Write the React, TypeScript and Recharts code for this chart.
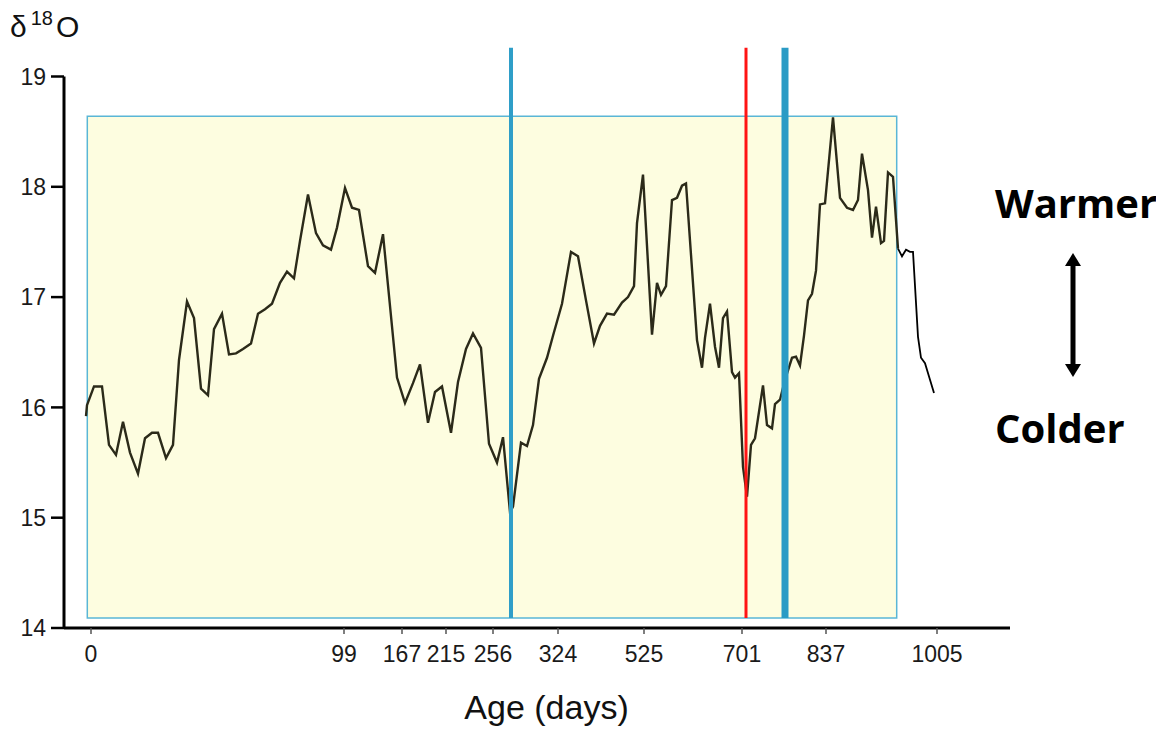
import React from "react";
import { LineChart, Line, XAxis, YAxis, ReferenceArea, ReferenceLine } from "recharts";

// position along the sampled profile (0 = first dated sample) and measured δ18O
const distance = [
  -0.5, -0.4, 0.3, 1.1, 1.8, 2.5, 3.2, 3.9, 4.7, 5.4, 6.1, 6.7, 7.5, 8.2, 8.8, 9.6, 10.3, 11.0, 11.7, 12.3,
  13.1, 13.8, 14.5, 15.2, 16.0, 16.7, 17.4, 18.1, 18.9, 19.6, 20.3, 20.9, 21.7, 22.5, 23.2, 24.0, 24.6, 25.4, 26.1, 26.8,
  27.7, 28.4, 29.2, 30.6, 31.4, 32.2, 32.9, 33.7, 34.4, 35.1, 36.0, 36.7, 37.5, 38.2, 39.0, 39.8, 40.6, 41.2, 41.9, 42.2,
  43.0, 43.6, 44.2, 44.8, 45.6, 46.2, 47.1, 48.0, 48.7, 49.5, 50.3, 50.9, 51.6, 52.3, 53.1, 53.7, 54.3, 54.6, 55.2, 56.1,
  56.6, 57.0, 57.5, 58.1, 58.6, 59.1, 59.5, 60.6, 61.1, 61.4, 61.9, 62.4, 62.8, 63.2, 63.6, 64.1, 64.4, 64.8, 65.2, 65.6,
  66.0, 66.4, 67.2, 67.6, 68.1, 68.4, 68.9, 69.4, 70.1, 70.5, 70.9, 71.3, 71.7, 72.1, 72.5, 72.9, 73.4, 74.2, 74.9, 75.6,
  76.2, 76.7, 77.1, 77.7, 78.1, 78.5, 79.0, 79.3, 79.7, 80.2, 80.7, 81.1, 81.5, 81.9, 82.2, 82.7, 83.0, 83.4, 83.9, 84.3,
];
const d18O = [
  15.92, 16.02, 16.19, 16.19, 15.66, 15.57, 15.87, 15.59, 15.4, 15.72, 15.77, 15.77, 15.54, 15.66, 16.43, 16.96, 16.81, 16.17, 16.11, 16.71,
  16.85, 16.48, 16.49, 16.53, 16.58, 16.85, 16.89, 16.94, 17.13, 17.23, 17.17, 17.51, 17.93, 17.58, 17.47, 17.43, 17.63, 17.99, 17.81, 17.79,
  17.28, 17.22, 17.57, 16.27, 16.04, 16.22, 16.39, 15.86, 16.14, 16.19, 15.77, 16.23, 16.53, 16.67, 16.54, 15.67, 15.5, 15.73, 15.05, 15.1,
  15.68, 15.65, 15.84, 16.26, 16.45, 16.65, 16.94, 17.41, 17.37, 16.97, 16.58, 16.74, 16.85, 16.84, 16.95, 17.0, 17.1, 17.67, 18.11, 16.66,
  17.13, 17.02, 17.1, 17.88, 17.9, 18.01, 18.03, 16.61, 16.36, 16.63, 16.94, 16.55, 16.36, 16.81, 16.87, 16.32, 16.27, 16.31, 15.46, 15.19,
  15.66, 15.72, 16.2, 15.84, 15.81, 16.03, 16.07, 16.25, 16.45, 16.46, 16.38, 16.65, 16.97, 17.03, 17.24, 17.84, 17.85, 18.63, 17.9, 17.81,
  17.79, 17.88, 18.3, 17.97, 17.54, 17.82, 17.49, 17.51, 18.13, 18.09, 17.44, 17.37, 17.43, 17.41, 17.41, 16.64, 16.45, 16.4, 16.25, 16.13,
];
// last sample inside the highlighted window
const windowEndIndex = 130;

const ageTickPos = [0, 25.3, 31.1, 35.5, 40.2, 46.7, 55.3, 65.1, 73.5, 84.6];
const ageTickLabels = ["0", "99", "167", "215", "256", "324", "525", "701", "837", "1005"];
const yTicks = [14, 15, 16, 17, 18, 19];

const windowX = [-0.37, 80.57];
const windowY = [14.09, 18.64];
const markerPos = [42.0, 65.5, 69.4];
const markerTop = 19.26;

const rows = distance.map((d, i) => ({
  dist: d,
  inWindow: i <= windowEndIndex ? d18O[i] : null,
  tail: i >= windowEndIndex ? d18O[i] : null,
}));

const font = "'Liberation Sans', Arial, sans-serif";

export default function App() {
  const fmt = (v: number) => ageTickLabels[ageTickPos.indexOf(v)] ?? "";

  return (
    <div style={{ position: "relative", width: 1148, height: 720 }}>
      <LineChart
        width={1148}
        height={720}
        data={rows}
        margin={{ top: 68.5, right: 146, bottom: 0, left: 16 }}
      >
        <XAxis
          type="number"
          dataKey="dist"
          domain={[-2.7, 91.9]}
          ticks={ageTickPos}
          tickFormatter={fmt}
          interval={0}
          allowDataOverflow
          height={100}
          axisLine={{ stroke: "#000", strokeWidth: 3 }}
          tickLine={{ stroke: "#555", strokeWidth: 1.5 }}
          tickSize={6}
          tickMargin={12}
          tick={{ fill: "#1a1a1a", fontSize: 23, fontFamily: font }}
        />
        <YAxis
          type="number"
          domain={[14, 19]}
          ticks={yTicks}
          interval={0}
          allowDataOverflow
          width={40}
          axisLine={{ stroke: "#000", strokeWidth: 3 }}
          tickLine={{ stroke: "#000", strokeWidth: 2.5 }}
          tickSize={13}
          tickMargin={5}
          tick={{ fill: "#1a1a1a", fontSize: 23, fontFamily: font }}
        />
        <ReferenceArea
          x1={windowX[0]}
          x2={windowX[1]}
          y1={windowY[0]}
          y2={windowY[1]}
          fill="#fdfde0"
          fillOpacity={1}
          stroke="#5ab6d6"
          strokeWidth={1.5}
          ifOverflow="visible"
        />
        <Line
          dataKey="inWindow"
          type="linear"
          stroke="#2b2a19"
          strokeWidth={2.4}
          dot={false}
          activeDot={false}
          isAnimationActive={false}
        />
        <Line
          dataKey="tail"
          type="linear"
          stroke="#000"
          strokeWidth={1.8}
          dot={false}
          activeDot={false}
          isAnimationActive={false}
        />
        <ReferenceLine
          segment={[{ x: markerPos[0], y: windowY[0] }, { x: markerPos[0], y: markerTop }]}
          stroke="#2f9ec8"
          strokeWidth={4}
          ifOverflow="visible"
        />
        <ReferenceLine
          segment={[{ x: markerPos[1], y: windowY[0] }, { x: markerPos[1], y: markerTop }]}
          stroke="#ff1414"
          strokeWidth={3}
          ifOverflow="visible"
        />
        <ReferenceLine
          segment={[{ x: markerPos[2], y: windowY[0] }, { x: markerPos[2], y: markerTop }]}
          stroke="#2a9bc5"
          strokeWidth={7}
          ifOverflow="visible"
        />
      </LineChart>

      <svg
        width={1148}
        height={720}
        style={{ position: "absolute", left: 0, top: 0, pointerEvents: "none" }}
      >
        <text x={2} y={29} fontFamily={font} fontSize={30} fill="#111">
          δ
          <tspan dx={4} dy={-12} fontSize={20}>18</tspan>
          <tspan dx={3} dy={12}>O</tspan>
        </text>
        <text x={538.5} y={711} textAnchor="middle" fontFamily={font} fontSize={34} fill="#111">
          Age (days)
        </text>
        <text x={987} y={210} fontFamily="'Open Sans', 'Noto Sans', sans-serif" fontWeight={700} fontSize={40} fill="#000">
          Warmer
        </text>
        <text x={987} y={435} fontFamily="'Open Sans', 'Noto Sans', sans-serif" fontWeight={700} fontSize={40} fill="#000">
          Colder
        </text>
        <g fill="#000">
          <polygon points="1065,245 1057,258 1073,258" />
          <rect x={1062.5} y={256} width={5} height={102} />
          <polygon points="1065,369 1057,356 1073,356" />
        </g>
      </svg>
    </div>
  );
}
